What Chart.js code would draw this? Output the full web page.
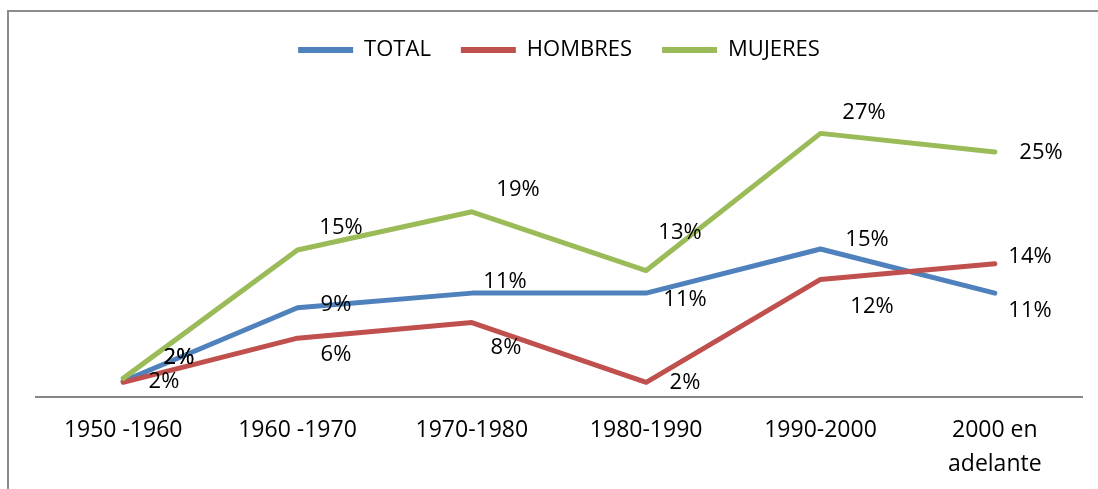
<!DOCTYPE html>
<html>
<head>
<meta charset="utf-8">
<script src="https://cdn.jsdelivr.net/npm/chart.js@4.4.1/dist/chart.umd.min.js"></script>
<style>
  html, body { margin: 0; padding: 0; background: #fff; }
  #wrap { position: relative; width: 1098px; height: 489px; }
</style>
</head>
<body>
<div id="wrap"><canvas id="myChart" width="1098" height="489"></canvas></div>
<script>
// data (percent)
var periods = ['1950 -1960', '1960 -1970', '1970-1980', '1980-1990', '1990-2000', ['2000 en', 'adelante']];
var totalValues = [1.6, 9.1, 10.6, 10.6, 15.1, 10.6];
var hombresValues = [1.5, 6.0, 7.6, 1.5, 12.0, 13.6];
var mujeresValues = [1.9, 15.0, 18.9, 12.9, 26.9, 25.0];

// where each value label sits relative to its point (dx, dy)
var labelNudges = [
    [[56, -23], [38, -3], [33, -11], [39, 7], [46, -9], [35, 18]],
    [[41, 0], [38, 17], [34, 25], [39, 1], [51, 28], [35, -7]],
    [[56, -20], [43, -22], [46, -22], [34, -38], [43, -20], [46, 1]]
];

var fontFamily = "'Open Sans', sans-serif";

// value labels drawn next to each point
var valueLabels = {
    id: 'valueLabels',
    afterDatasetsDraw: function (chart) {
        var ctx = chart.ctx;
        ctx.save();
        ctx.font = '22px ' + fontFamily;
        ctx.fillStyle = '#000';
        ctx.textAlign = 'center';
        ctx.textBaseline = 'middle';
        chart.data.datasets.forEach(function (ds, i) {
            var meta = chart.getDatasetMeta(i);
            meta.data.forEach(function (pt, j) {
                var n = labelNudges[i][j];
                ctx.fillText(Math.round(ds.data[j]) + '%', Math.round(pt.x + n[0]), Math.round(pt.y + n[1]));
            });
        });
        ctx.restore();
    }
};

// grey frame round the chart
var frame = {
    id: 'frame',
    beforeDraw: function (chart) {
        var ctx = chart.ctx;
        ctx.save();
        ctx.strokeStyle = '#8c8c8c';
        ctx.lineWidth = 2;
        ctx.strokeRect(8, 11, 2000, 2000);
        ctx.restore();
    }
};

// extra room under the legend
var legendGap = {
    id: 'legendGap',
    beforeInit: function (chart) {
        var fit = chart.legend.fit;
        chart.legend.fit = function () {
            fit.bind(chart.legend)();
            this.height += 32;
        };
    }
};

new Chart('myChart', {
    type: 'line',
    data: {
        labels: periods,
        datasets: [{
            label: 'TOTAL',
            data: totalValues,
            borderColor: '#4F81BD',
            backgroundColor: '#4F81BD',
            order: 3
        }, {
            label: 'HOMBRES',
            data: hombresValues,
            borderColor: '#C0504D',
            backgroundColor: '#C0504D',
            order: 2
        }, {
            label: 'MUJERES',
            data: mujeresValues,
            borderColor: '#9BBB59',
            backgroundColor: '#9BBB59',
            order: 1
        }]
    },
    options: {
        responsive: false,
        animation: false,
        devicePixelRatio: 1,
        layout: { padding: { left: 36, right: 16, top: 9, bottom: 0 } },
        elements: {
            line: { borderWidth: 5, tension: 0, borderCapStyle: 'round', borderJoinStyle: 'round' },
            point: { radius: 0, hoverRadius: 0 }
        },
        plugins: {
            tooltip: { enabled: false },
            legend: {
                position: 'top',
                labels: {
                    boxWidth: 55,
                    boxHeight: 6,
                    padding: 30,
                    color: '#000',
                    font: { family: fontFamily, size: 22 },
                    sort: function (a, b) { return a.datasetIndex - b.datasetIndex; },
                    generateLabels: function (chart) {
                        var items = Chart.defaults.plugins.legend.labels.generateLabels(chart);
                        items.forEach(function (it) { it.lineWidth = 0; it.fillStyle = it.strokeStyle; });
                        return items;
                    }
                }
            }
        },
        scales: {
            x: {
                offset: true,
                grid: { display: false, drawTicks: false, offset: true },
                border: { display: true, color: '#868686', width: 2 },
                ticks: {
                    color: '#000',
                    font: { family: fontFamily, size: 23, lineHeight: 1.46 },
                    padding: 17,
                    maxRotation: 0,
                    autoSkip: false
                },
                afterFit: function (scale) { scale.height = 92; }
            },
            y: {
                display: false,
                min: 0,
                max: 30
            }
        }
    },
    plugins: [valueLabels, frame, legendGap]
});
</script>
</body>
</html>
